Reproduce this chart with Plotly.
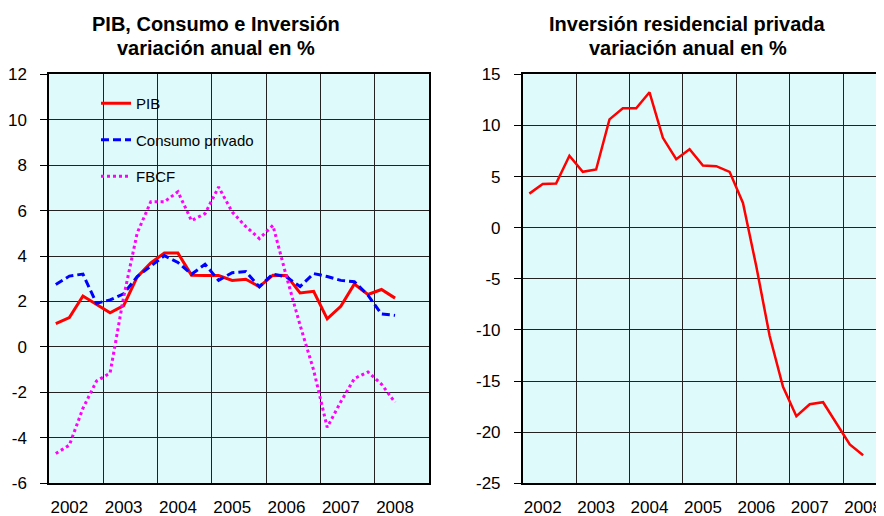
import plotly.graph_objects as go

# ---- data (quarterly, 2002T1 .. 2008T2) ----
years = [2002, 2003, 2004, 2005, 2006, 2007, 2008]
quarters = [(y, q) for y in years for q in (1, 2, 3, 4)][:26]

pib = [1.03, 1.29, 2.24, 1.86, 1.50, 1.82, 3.08, 3.70, 4.13, 4.13, 3.16, 3.14,
       3.14, 2.93, 2.98, 2.65, 3.16, 3.15, 2.38, 2.45, 1.24, 1.79, 2.77, 2.31,
       2.53, 2.15]
consumo = [2.75, 3.12, 3.21, 1.92, 2.07, 2.34, 3.10, 3.54, 4.02, 3.72, 3.20, 3.64,
           2.93, 3.27, 3.32, 2.65, 3.21, 3.08, 2.66, 3.23, 3.10, 2.93, 2.87, 2.28,
           1.45, 1.39]
fbcf = [-4.69, -4.32, -2.70, -1.50, -1.15, 2.20, 5.02, 6.39, 6.39, 6.83, 5.56, 5.87,
        7.04, 5.94, 5.30, 4.77, 5.35, 3.09, 0.96, -1.02, -3.54, -2.41, -1.39, -1.10,
        -1.64, -2.44]
residencial = [3.33, 4.28, 4.31, 7.03, 5.46, 5.69, 10.59, 11.67, 11.67, 13.24, 8.79,
               6.70, 7.68, 6.08, 6.01, 5.46, 2.42, -3.8, -10.6, -15.57, -18.44,
               -17.27, -17.07, -19.1, -21.2, -22.26]

left_yticks = [-6, -4, -2, 0, 2, 4, 6, 8, 10, 12]
right_yticks = [-25, -20, -15, -10, -5, 0, 5, 10, 15]
year_labels = [str(y) for y in years]

x = [y + (q - 0.5) / 4 for (y, q) in quarters]

W, H = 892, 516
OFF = 8  # page body margin
FONT = "Liberation Sans, Arial, sans-serif"
BG = "#DFFAFA"

def px_x(p):
    return (p - OFF) / W

def px_y(p):
    return 1 - (p - OFF) / H

top, bottom = 74.3, 483.3
ydom = [px_y(bottom), px_y(top)]

fig = go.Figure()

fig.add_trace(go.Scatter(x=x, y=pib, name="PIB", mode="lines",
                         line=dict(color="#FF0000", width=3),
                         xaxis="x", yaxis="y", legendgroup="a"))
fig.add_trace(go.Scatter(x=x, y=consumo, name="Consumo privado", mode="lines",
                         line=dict(color="#0000FF", width=3, dash="8px,4px"),
                         xaxis="x", yaxis="y", legendgroup="b"))
fig.add_trace(go.Scatter(x=x, y=fbcf, name="FBCF", mode="lines",
                         line=dict(color="#FF00FF", width=3, dash="3px,3px"),
                         xaxis="x", yaxis="y", legendgroup="c"))
fig.add_trace(go.Scatter(x=x, y=residencial, name="Inversión residencial", mode="lines",
                         line=dict(color="#FF0000", width=2.5),
                         xaxis="x2", yaxis="y2", showlegend=False))

tick_pos = [y + 0.375 for y in years]
grid_pos = years + [2009]

common_x = dict(
    tickmode="array", tickvals=tick_pos, ticktext=year_labels,
    showgrid=False, ticks="", zeroline=False, automargin=False,
    showline=True, linecolor="black", linewidth=1.5,
    tickfont=dict(family=FONT, size=17, color="black"),
    ticklabelstandoff=8,
    minor=dict(tickvals=grid_pos, showgrid=True, gridcolor="#222222",
               gridwidth=1, ticks=""),
)
common_y = dict(
    showgrid=True, gridcolor="#222222", gridwidth=1, zeroline=False,
    showline=True, linecolor="black", linewidth=1.5, automargin=False,
    ticks="outside", ticklen=7, tickcolor="black", tickwidth=1,
    tickfont=dict(family=FONT, size=17, color="black"),
    ticklabelstandoff=10, tickmode="array",
)

fig.update_layout(
    width=W, height=H,
    margin=dict(l=0, r=0, t=0, b=0, autoexpand=False),
    paper_bgcolor="white", plot_bgcolor=BG,
    showlegend=True,
    xaxis=dict(domain=[px_x(49), px_x(429)], range=[2002, 2009], mirror=True,
               anchor="y", **common_x),
    yaxis=dict(domain=ydom, range=[-6, 12], tickvals=left_yticks,
               ticktext=[str(v) for v in left_yticks], mirror=True,
               anchor="x", **common_y),
    xaxis2=dict(domain=[px_x(522.7), px_x(896.5)], range=[2002, 2009],
                mirror=True, anchor="y2", **common_x),
    yaxis2=dict(domain=ydom, range=[-25, 15], tickvals=right_yticks,
                ticktext=[str(v) for v in right_yticks],
                anchor="x2", **common_y),
    legend=dict(x=px_x(96), y=px_y(87), xanchor="left", yanchor="top",
                bgcolor="rgba(0,0,0,0)", borderwidth=0,
                font=dict(family=FONT, size=15, color="black"),
                tracegroupgap=14, itemwidth=30),
)

titles = [
    (216, 24, "PIB, Consumo e Inversión"),
    (216, 48, "variación anual en %"),
    (687, 24, "Inversión residencial privada"),
    (688, 48, "variación anual en %"),
]
for cx, cy, txt in titles:
    fig.add_annotation(x=px_x(cx), y=px_y(cy), xref="paper", yref="paper",
                       text="<b>" + txt + "</b>", showarrow=False,
                       xanchor="center", yanchor="middle",
                       font=dict(family=FONT, size=20, color="black"))

fig.write_html("out.html")
